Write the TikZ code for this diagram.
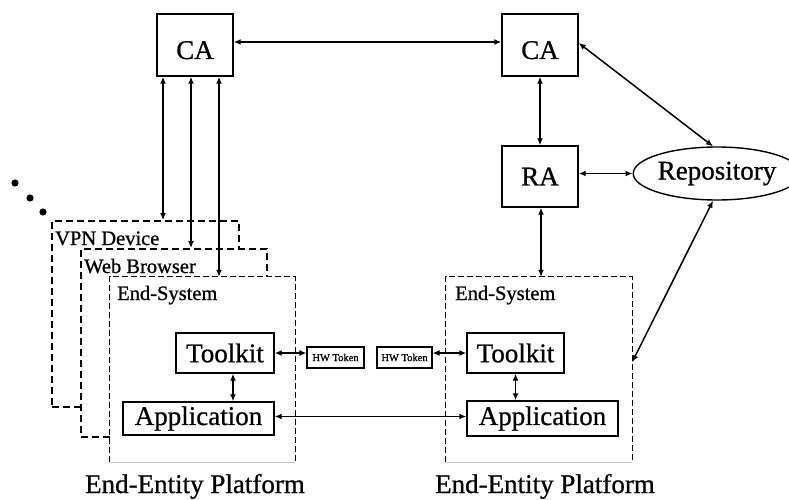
\documentclass[tikz,border=0pt]{standalone}
\usepackage{fontspec}
\setmainfont{Liberation Serif}
\newfontfamily\diagfont{Liberation Serif}[FakeBold=0.8]
\usetikzlibrary{arrows.meta,shapes.geometric,calc}

\begin{document}
\begin{tikzpicture}[x=1pt,y=-1pt,
  big/.style={font=\diagfont\fontsize{27}{30}\selectfont},
  small/.style={font=\diagfont\fontsize{20.5}{23}\selectfont},
  box/.style={draw,line width=1.4pt,fill=white,inner sep=0pt,big},
  tokenbox/.style={draw,line width=1.2pt,fill=white,inner sep=0pt,font=\diagfont\fontsize{10.5}{12}\selectfont},
  repobox/.style={ellipse,draw,line width=1.4pt,fill=white,inner sep=0pt,big},
  stackbox/.style={draw,line width=1.9pt,dash pattern=on 7pt off 4pt,fill=white,inner sep=0pt},
  sysbox/.style={fill=white,inner sep=0pt},
  sysedge/.style={line width=1pt,dash pattern=on 6pt off 3pt},
  conn/.style={line width=1.5pt,{Latex[length=7pt,width=6pt]}-{Latex[length=7pt,width=6pt]}},
  tag/.style={small,anchor=base west,inner sep=0pt}
]
\useasboundingbox (0,0) rectangle (789,500);

% stacked platform layers
\node[stackbox,minimum width=187pt,minimum height=186pt] (vpn) at (145.5,314) {};
\node[tag] (vpnlbl) at (55,245) {VPN Device};
\node[stackbox,minimum width=186pt,minimum height=188pt] (wb) at (174,343) {};
\node[tag] (wblbl) at (84,273) {Web Browser};

% end systems
\node[sysbox,minimum width=185pt,minimum height=185pt] (esL) at (202.5,369.5) {};
\draw[sysedge] (esL.south west) -- (esL.north west) -- (esL.north east) -- (esL.south east);
\draw[gray!45,line width=0.8pt] (esL.south west) -- (esL.south east);
\node[tag] (esLlbl) at (117,300) {End-System};

\node[sysbox,minimum width=186pt,minimum height=185pt] (esR) at (539,369.5) {};
\draw[sysedge] (esR.south west) -- (esR.north west) -- (esR.north east) -- (esR.south east);
\draw[gray!45,line width=0.8pt] (esR.south west) -- (esR.south east);
\node[tag] (esRlbl) at (455,300) {End-System};

% components
\node[box,minimum width=98pt,minimum height=40pt] (tkL) at (225,353) {Toolkit};
\node[box,minimum width=151pt,minimum height=33pt] (appL) at (198.5,418.5) {Application};
\node[box,minimum width=97pt,minimum height=40pt] (tkR) at (515.5,353) {Toolkit};
\node[box,minimum width=151pt,minimum height=35pt] (appR) at (542.5,418.5) {Application};
\node[tokenbox,minimum width=57pt,minimum height=21pt] (hwL) at (335.5,357.5) {HW Token};
\node[tokenbox,minimum width=55pt,minimum height=21pt] (hwR) at (404.5,357.5) {HW Token};

% authorities
\node[box,minimum width=76pt,minimum height=62pt,text height=28pt,text depth=0pt] (caL) at (195,45) {CA};
\node[box,minimum width=76pt,minimum height=62pt,text height=28pt,text depth=0pt] (caR) at (540,45) {CA};
\node[box,minimum width=76pt,minimum height=61pt] (ra) at (540,176.5) {RA};
\node[repobox,minimum width=142pt,minimum height=53pt] (repo) at (717,173.5) {Repository};

% connectors
\draw[conn] ([yshift=3pt]caL.east) -- ([yshift=3pt]caL.east -| caR.west);
\draw[conn] (caL.south -| 163,0) -- (vpn.north -| 163,0);
\draw[conn] (caL.south -| 191,0) -- (wb.north -| 191,0);
\draw[conn] (caL.south -| 219,0) -- (esL.north -| 219,0);
\draw[conn] (caR.south) -- (ra.north);
\draw[conn] (ra.south -| 541,0) -- (esR.north -| 541,0);
\draw[conn] (ra.east |- repo.west) -- (repo.west);
\draw[conn] ([yshift=2pt]caR.east) -- ([xshift=-4pt]repo.north);
\draw[conn] ([xshift=-4pt]repo.south) -- ($(esR.north east)!0.46!(esR.south east)$);
\draw[conn] (tkL.east) -- (tkL.east -| hwL.west);
\draw[conn] (tkR.west -| hwR.east) -- (tkR.west);
\draw[conn] ([xshift=8pt]tkL.south) -- ([xshift=8pt]tkL.south |- appL.north);
\draw[conn] (tkR.south) -- (tkR.south |- appR.north);
\draw[conn] ([yshift=2pt]appL.east) -- ([yshift=2pt]appL.east -| appR.west);

% ellipsis marks for further layers
\fill (15,183) circle (3.6pt);
\fill (30,198) circle (3.6pt);
\fill (43,212) circle (3.6pt);

% platform captions
\node[big,anchor=base,inner sep=0pt] (platL) at (195,493) {End-Entity Platform};
\node[big,anchor=base,inner sep=0pt] (platR) at (545,493) {End-Entity Platform};
\end{tikzpicture}
\end{document}
